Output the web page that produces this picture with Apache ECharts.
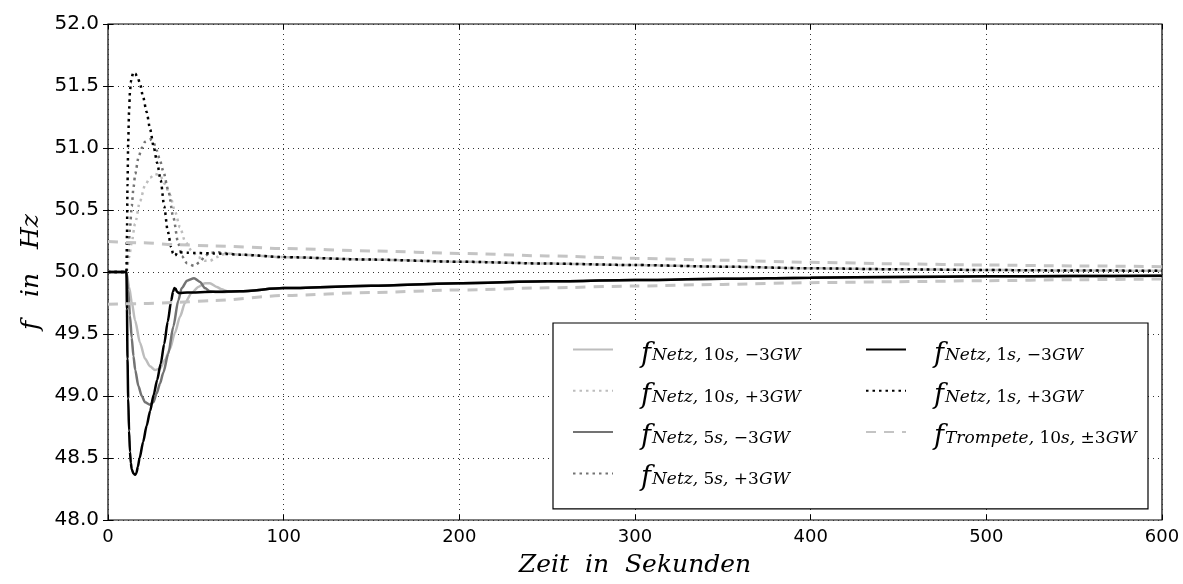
<!DOCTYPE html>
<html>
<head>
<meta charset="utf-8">
<script src="https://cdn.jsdelivr.net/npm/echarts@6/dist/echarts.min.js"></script>
<style>
html,body{margin:0;padding:0;background:#fff;}
#chart{width:1183px;height:584px;}
</style>
</head>
<body>
<div id="chart"></div>
<script>
// ---- data (time in s, frequency in Hz) ----
const xTicks = [0, 100, 200, 300, 400, 500, 600];
const yTicks = [48.0, 48.5, 49.0, 49.5, 50.0, 50.5, 51.0, 51.5, 52.0];

const tailT = [75, 100, 150, 200, 250, 300, 350, 400, 450, 500, 550, 600];

// f_Netz,10s,-3GW
const n10mT = [0, 10.5, 12, 13.5, 15.4, 18.2, 21.1, 23.9, 26.7, 29.6, 32.4, 35.3, 38.1, 41, 43.8, 47.6, 51.4, 55.2, 58, 61.9, 64.7, 68];
const n10mF = [50, 50, 49.88, 49.76, 49.61, 49.43, 49.30, 49.24, 49.21, 49.22, 49.29, 49.38, 49.51, 49.64, 49.75, 49.83, 49.88, 49.91, 49.91, 49.88, 49.86, 49.845];
// f_Netz,10s,+3GW
const n10pT = [0, 10.5, 12, 13.5, 15.4, 18.2, 21.1, 23.9, 26.7, 29.6, 32.4, 35.3, 38.1, 41, 43.8, 47.6, 51.4, 55.2, 58, 61.9, 64.7, 68];
const n10pF = [50, 50, 50.12, 50.24, 50.39, 50.57, 50.70, 50.76, 50.79, 50.78, 50.71, 50.62, 50.49, 50.36, 50.25, 50.17, 50.12, 50.09, 50.09, 50.12, 50.14, 50.15];
// f_Netz,5s,-3GW
const n5mT = [0, 10.5, 11.5, 12.5, 13.5, 14.5, 15.5, 17.3, 19.2, 21.1, 23.9, 25.8, 27.7, 29.6, 31.5, 34.3, 37.2, 40, 42, 45, 49, 52.4, 55.2, 58, 62];
const n5mF = [50, 50, 49.85, 49.65, 49.47, 49.32, 49.21, 49.08, 49.0, 48.95, 48.93, 48.95, 49.02, 49.10, 49.19, 49.34, 49.56, 49.77, 49.87, 49.93, 49.95, 49.92, 49.87, 49.845, 49.838];
// f_Netz,5s,+3GW
const n5pT = [0, 10.5, 11.5, 12.5, 13.5, 14.5, 15.5, 17.3, 19.2, 21.1, 23.9, 25.8, 27.7, 29.6, 31.5, 34.3, 37.2, 40, 42, 45, 49, 52.4, 55.2, 58, 62];
const n5pF = [50, 50, 50.15, 50.35, 50.53, 50.68, 50.79, 50.92, 51.0, 51.05, 51.07, 51.05, 50.98, 50.90, 50.81, 50.66, 50.44, 50.23, 50.13, 50.07, 50.05, 50.08, 50.13, 50.155, 50.16];
// f_Netz,1s,-3GW
const n1mT = [0, 10.5, 10.8, 11.1, 11.5, 12, 12.5, 13, 13.5, 14.5, 15.4, 16.2, 17, 18, 20, 22, 24, 26, 28, 30, 32, 34, 36, 37, 37.8, 38.5, 39.3, 40.5, 45, 60];
const n1mF = [50, 50, 49.7, 49.3, 48.98, 48.72, 48.55, 48.46, 48.41, 48.375, 48.365, 48.38, 48.43, 48.5, 48.63, 48.76, 48.88, 49.01, 49.13, 49.26, 49.42, 49.6, 49.77, 49.84, 49.87, 49.865, 49.84, 49.83, 49.835, 49.84];
// f_Netz,1s,+3GW
const n1pT = [0, 10.5, 10.8, 11.1, 11.5, 12, 12.5, 13, 13.5, 14.4, 15.5, 16.9, 18.2, 20, 22, 24, 26, 28, 30, 32, 34, 36, 37, 37.8, 38.5, 39.3, 40.5, 45, 60];
const n1pF = [50, 50, 50.3, 50.7, 51.05, 51.3, 51.45, 51.53, 51.57, 51.61, 51.6, 51.57, 51.52, 51.41, 51.29, 51.15, 51.01, 50.88, 50.74, 50.53, 50.33, 50.2, 50.15, 50.13, 50.135, 50.155, 50.16, 50.155, 50.15];
// shared slow recovery tails
const tailMinusF = [49.845, 49.87, 49.89, 49.91, 49.925, 49.935, 49.945, 49.954, 49.96, 49.965, 49.968, 49.97];
const tailPlusF = [50.14, 50.12, 50.10, 50.083, 50.068, 50.056, 50.043, 50.03, 50.022, 50.016, 50.012, 50.01];
// f_Trompete,10s,±3GW
const tromT = [0, 20, 40, 60, 100, 150, 200, 250, 300, 350, 400, 450, 500, 550, 600];
const tromUpF = [50.245, 50.235, 50.22, 50.21, 50.19, 50.17, 50.15, 50.13, 50.11, 50.095, 50.078, 50.066, 50.056, 50.049, 50.043];
const tromLoF = [49.74, 49.745, 49.755, 49.77, 49.81, 49.835, 49.855, 49.872, 49.887, 49.90, 49.914, 49.922, 49.93, 49.938, 49.944];

const seriesNames = ['n10m', 'n10p', 'n5m', 'n5p', 'n1m', 'n1p', 'trom'];
// legend label pieces: [richStyle, text]
const legendParts = {
  n10m: [['f', 'f'], ['i', 'Netz,'], ['n', ' 10'], ['i', 's,'], ['n', ' −3'], ['i', 'GW']],
  n10p: [['f', 'f'], ['i', 'Netz,'], ['n', ' 10'], ['i', 's,'], ['n', ' +3'], ['i', 'GW']],
  n5m: [['f', 'f'], ['i', 'Netz,'], ['n', ' 5'], ['i', 's,'], ['n', ' −3'], ['i', 'GW']],
  n5p: [['f', 'f'], ['i', 'Netz,'], ['n', ' 5'], ['i', 's,'], ['n', ' +3'], ['i', 'GW']],
  n1m: [['f', 'f'], ['i', 'Netz,'], ['n', ' 1'], ['i', 's,'], ['n', ' −3'], ['i', 'GW']],
  n1p: [['f', 'f'], ['i', 'Netz,'], ['n', ' 1'], ['i', 's,'], ['n', ' +3'], ['i', 'GW']],
  trom: [['f', 'f'], ['i', 'Trompete,'], ['n', ' 10'], ['i', 's,'], ['n', ' ±3'], ['i', 'GW']]
};

function pairs(t, f) { return t.map((v, i) => [v, f[i]]); }

const LG = '#bdbdbd', DG = '#737373', BK = '#000000', DL = '#c4c4c4';
const DOT = [2.5, 4];

function mk(name, t, f, color, type, width) {
  return {
    name: name, type: 'line', data: pairs(t, f), showSymbol: false, symbol: 'none',
    smooth: 0.25, smoothMonotone: 'x',
    lineStyle: { color: color, width: width, type: type, cap: 'butt' },
    itemStyle: { color: color }, emphasis: { disabled: true }, animation: false
  };
}

const series = [
  mk('n10m', n10mT.concat(tailT), n10mF.concat(tailMinusF), LG, 'solid', 2.5),
  mk('n10p', n10pT.concat(tailT), n10pF.concat(tailPlusF), LG, DOT, 2.5),
  mk('n5m', n5mT.concat(tailT), n5mF.concat(tailMinusF), DG, 'solid', 2.5),
  mk('n5p', n5pT.concat(tailT), n5pF.concat(tailPlusF), DG, DOT, 2.5),
  mk('n1m', n1mT.concat(tailT), n1mF.concat(tailMinusF), BK, 'solid', 2.5),
  mk('n1p', n1pT.concat(tailT), n1pF.concat(tailPlusF), BK, DOT, 2.5),
  mk('trom', tromT, tromUpF, DL, [10, 8], 3),
  mk('trom', tromT, tromLoF, DL, [10, 8], 3)
];

// ---- legend text styling & measuring ----
const serif = 'DejaVu Serif';
const rich = {
  f: { fontFamily: serif, fontStyle: 'italic', fontSize: 27, lineHeight: 30, padding: [10, 1, 0, 23], color: '#000' },
  i: { fontFamily: serif, fontStyle: 'italic', fontSize: 17, lineHeight: 18, verticalAlign: 'bottom', color: '#000' },
  n: { fontFamily: serif, fontSize: 17, lineHeight: 18, verticalAlign: 'bottom', color: '#000' }
};
const cv = document.createElement('canvas').getContext('2d');
function fragW(st, txt) {
  const s = rich[st];
  cv.font = (s.fontStyle ? s.fontStyle + ' ' : '') + s.fontSize + 'px "' + s.fontFamily + '"';
  const pad = s.padding ? s.padding[1] + s.padding[3] : 0;
  return cv.measureText(txt).width + pad;
}
function labelW(name) { return legendParts[name].reduce((a, p) => a + fragW(p[0], p[1]), 0); }

const col1 = ['n10m', 'n10p', 'n5m', 'n5p'];
const col2 = ['n1m', 'n1p', 'trom'];
const BOX_L = 553, BOX_R = 1146, ICON_L = 572, COL2_ICON = 864, ITEM_W = 40, GAP = 4.3;
const col1TextW = COL2_ICON - ICON_L - ITEM_W - 5 - GAP;
const legendLabels = {};
seriesNames.forEach((nm, k) => {
  let s = legendParts[nm].map(p => '{' + p[0] + '|' + p[1] + '}').join('');
  if (col1.indexOf(nm) >= 0) {
    const fill = Math.max(1, col1TextW - labelW(nm));
    rich['pad' + k] = { width: fill, fontSize: 10, lineHeight: 10 };
    s += '{pad' + k + '| }';
  }
  legendLabels[nm] = s;
});
const col2W = Math.max.apply(null, col2.map(labelW));
const padR = Math.max(2, BOX_R - (COL2_ICON + ITEM_W + 5 + col2W));

const chart = echarts.init(document.getElementById('chart'), null, { renderer: 'canvas' });

chart.setOption({
  animation: false,
  backgroundColor: '#fff',
  grid: { left: 108, right: 21, top: 24, bottom: 64, show: true, borderColor: '#000', borderWidth: 1.2, backgroundColor: 'transparent' },
  xAxis: [{
    type: 'value', min: xTicks[0], max: xTicks[xTicks.length - 1], interval: 100,
    name: 'Zeit  in  Sekunden', nameLocation: 'middle', nameGap: 33,
    nameTextStyle: { fontFamily: serif, fontStyle: 'italic', fontSize: 25, color: '#000' },
    axisLine: { show: false }, axisTick: { show: true, inside: true, length: 5, lineStyle: { color: '#000' } },
    axisLabel: { margin: 8, fontFamily: 'DejaVu Sans', fontSize: 18, color: '#000' },
    splitLine: { show: true, lineStyle: { color: '#333', width: 1, type: [1, 4] } }
  }, {
    type: 'value', position: 'top', min: xTicks[0], max: xTicks[xTicks.length - 1], interval: 100,
    axisLine: { show: false }, axisTick: { show: true, inside: true, length: 5, lineStyle: { color: '#000' } },
    axisLabel: { show: false }, splitLine: { show: false }
  }],
  yAxis: [{
    type: 'value', min: yTicks[0], max: yTicks[yTicks.length - 1], interval: 0.5,
    name: 'f   in   Hz', nameLocation: 'middle', nameGap: 62,
    nameTextStyle: { fontFamily: serif, fontStyle: 'italic', fontSize: 25, color: '#000' },
    axisLine: { show: false }, axisTick: { show: true, inside: true, length: 5, lineStyle: { color: '#000' } },
    axisLabel: { margin: 9, fontFamily: 'DejaVu Sans', fontSize: 20, color: '#000', formatter: v => v.toFixed(1) },
    splitLine: { show: true, lineStyle: { color: '#333', width: 1, type: [1, 4] } }
  }, {
    type: 'value', position: 'right', min: yTicks[0], max: yTicks[yTicks.length - 1], interval: 0.5,
    axisLine: { show: false }, axisTick: { show: true, inside: true, length: 5, lineStyle: { color: '#000' } },
    axisLabel: { show: false }, splitLine: { show: false }
  }],
  legend: {
    show: true, orient: 'vertical', left: BOX_L, top: 323, height: 170,
    padding: [8, padR, 17, ICON_L - BOX_L], itemGap: GAP, itemWidth: ITEM_W, itemHeight: 14,
    borderColor: '#000', borderWidth: 1.2, backgroundColor: '#fff', borderRadius: 0,
    selectedMode: false,
    itemStyle: { opacity: 0 },
    data: seriesNames,
    formatter: name => legendLabels[name],
    textStyle: { color: '#000', rich: rich }
  },
  series: series
});
</script>
</body>
</html>
